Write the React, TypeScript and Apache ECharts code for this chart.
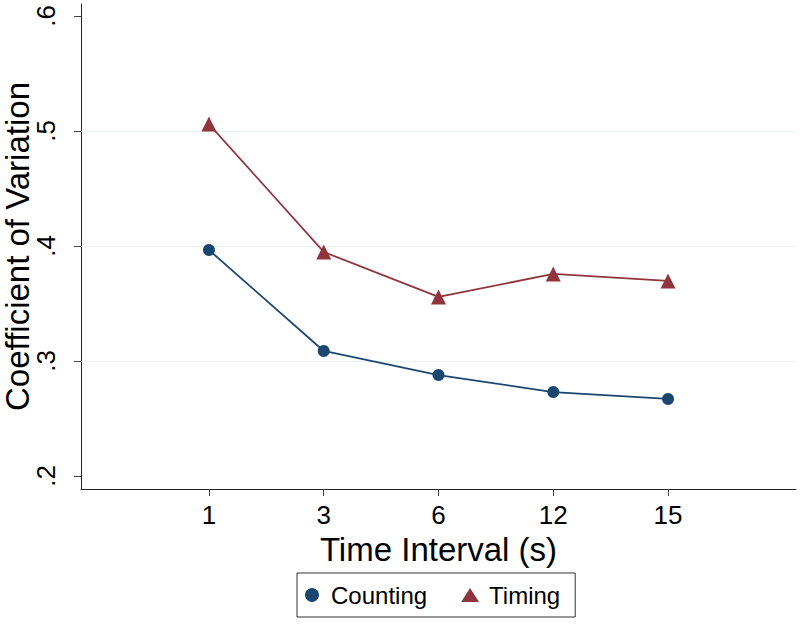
import React, { useEffect, useRef } from "react";
import * as echarts from "echarts";

const categories = ["1", "3", "6", "12", "15"];
const counting = [0.3965, 0.3087, 0.2878, 0.273, 0.267];
const timing = [0.506, 0.3948, 0.3557, 0.3757, 0.3696];
const yTicks = [0.2, 0.3, 0.4, 0.5, 0.6];
const gridValues = [0.3, 0.4, 0.5];

const FONT = "'Liberation Sans', Arial, Helvetica, sans-serif";

export default function App() {
  const ref = useRef<HTMLDivElement>(null);
  useEffect(() => {
    document.body.style.margin = "0";
    const chart = echarts.init(ref.current!, null, { renderer: "svg" });
    const xPos = categories.map((_, i) => i + 1);
    chart.setOption({
      animation: false,
      backgroundColor: "#ffffff",
      textStyle: { fontFamily: FONT },
      grid: { left: 81, right: 4, top: 4, bottom: 138, containLabel: false, outerBoundsMode: "none" },
      legend: {
        left: 297,
        top: 573,
        orient: "horizontal",
        borderColor: "#333333",
        borderWidth: 1,
        padding: [10, 15, 10, 8],
        itemWidth: 18,
        itemHeight: 14,
        itemGap: 34,
        textStyle: { fontSize: 24, color: "#000000", fontFamily: FONT, padding: [0, 0, 0, 5] },
        data: [
          { name: "Counting", icon: "circle" },
          { name: "Timing", icon: "triangle" },
        ],
      },
      xAxis: {
        type: "value",
        min: -0.115,
        max: 6.115,
        name: "Time Interval (s)",
        nameLocation: "middle",
        nameGap: 44,
        nameTextStyle: { fontSize: 33, color: "#000000", fontFamily: FONT },
        axisLine: { show: true, onZero: false, lineStyle: { color: "#222222", width: 1 } },
        axisTick: { show: true, customValues: xPos, length: 7, lineStyle: { color: "#444444" } },
        axisLabel: {
          customValues: xPos,
          fontSize: 26,
          color: "#000000",
          margin: 13,
          fontFamily: FONT,
          formatter: (v: number) => categories[Math.round(v) - 1] ?? "",
        },
        splitLine: { show: false },
      },
      yAxis: {
        type: "value",
        min: 0.1887,
        max: 0.6104,
        name: "Coefficient of Variation",
        nameLocation: "middle",
        nameGap: 47,
        nameMoveOverlap: false,
        nameTextStyle: { fontSize: 33, color: "#000000", fontFamily: FONT },
        axisLine: { show: true, onZero: false, lineStyle: { color: "#222222", width: 1 } },
        axisTick: { show: true, customValues: yTicks, length: 7, lineStyle: { color: "#444444" } },
        axisLabel: {
          customValues: yTicks,
          rotate: 90,
          fontSize: 26,
          color: "#000000",
          margin: 22,
          fontFamily: FONT,
          formatter: (v: number) => "." + Math.round(v * 10),
        },
        splitLine: { show: false },
      },
      series: [
        {
          name: "Counting",
          type: "line",
          data: counting.map((v, i) => [xPos[i], v]),
          symbol: "circle",
          symbolSize: 12,
          itemStyle: { color: "#1a476f" },
          lineStyle: { color: "#1a476f", width: 1.8 },
          z: 3,
          markLine: {
            silent: true,
            symbol: "none",
            label: { show: false },
            lineStyle: { color: "#eaf2f3", type: "solid", width: 1.2 },
            data: gridValues.map((v) => ({ yAxis: v })),
            z: 1,
          },
        },
        {
          name: "Timing",
          type: "line",
          data: timing.map((v, i) => [xPos[i], v]),
          symbol: "triangle",
          symbolSize: 15,
          itemStyle: { color: "#90353b" },
          lineStyle: { color: "#90353b", width: 1.8 },
          z: 3,
        },
      ],
    });
    return () => chart.dispose();
  }, []);
  return <div ref={ref} style={{ width: 800, height: 627 }} />;
}
